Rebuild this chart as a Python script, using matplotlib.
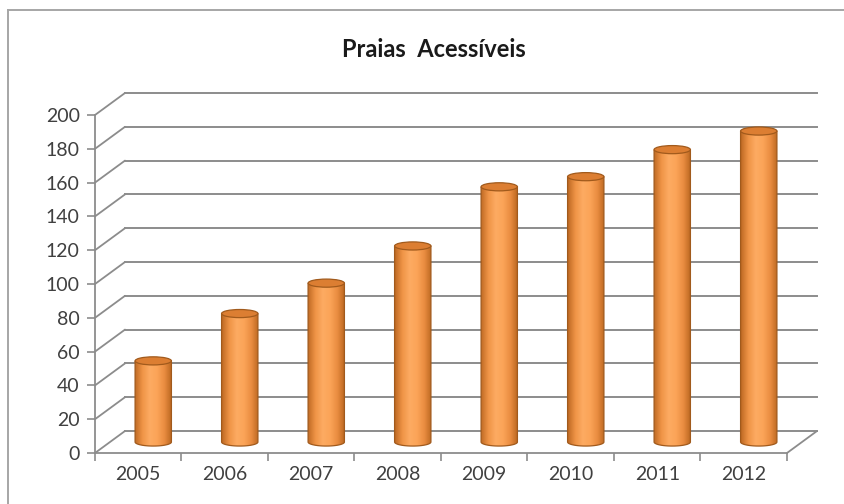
import numpy as np
import matplotlib
matplotlib.use("Agg")
import matplotlib.pyplot as plt
from matplotlib.transforms import Affine2D
from matplotlib.patches import Ellipse, ConnectionPatch, PathPatch
from matplotlib.path import Path
from matplotlib.colors import LinearSegmentedColormap

# ---- data ----
title = "Praias  Acessíveis"
years = ["2005", "2006", "2007", "2008", "2009", "2010", "2011", "2012"]
values = [48, 76, 94, 116, 151, 157, 173, 184]
yticks = list(range(0, 201, 20))

plt.rcParams['font.family'] = ['Lato', 'DejaVu Sans']

W, H = 845, 504
fig = plt.figure(figsize=(W / 100, H / 100), dpi=100)
fig.patch.set_facecolor("white")

# outer chart border (top and left visible)
fig.add_artist(plt.Line2D([8.5 / W, 8.5 / W], [0, 1 - 10 / H], transform=fig.transFigure,
                          color="#a6a6a6", lw=1.4))
fig.add_artist(plt.Line2D([8.5 / W, 1], [1 - 10 / H, 1 - 10 / H], transform=fig.transFigure,
                          color="#a6a6a6", lw=1.4))

left, right = 95, 787
bottom, top = 453, 115
ax = fig.add_axes([left / W, 1 - bottom / H, (right - left) / W, (bottom - top) / H])
ax.set_xlim(-0.5, len(years) - 0.5)
ax.set_ylim(0, 200)
ax.patch.set_alpha(0)
for s in ["top", "right"]:
    ax.spines[s].set_visible(False)
for s in ["left", "bottom"]:
    ax.spines[s].set_color("#8c8c8c")
    ax.spines[s].set_linewidth(1.3)

DX, DY = 30, 22  # depth offset in pixels
back = ax.transData + Affine2D().translate(DX, DY)
mid = ax.transData + Affine2D().translate(DX * 0.5, DY * 0.5)

grid_c = "#8c8c8c"
x0, x1 = -0.5, len(years) - 0.5
# back wall gridlines and left wall diagonals
for t in yticks:
    ax.plot([x0, x1], [t, t], transform=back, color=grid_c, lw=1.4, clip_on=False, zorder=1)
    cp = ConnectionPatch((x0, t), (x0, t), coordsA=ax.transData, coordsB=back,
                         color=grid_c, lw=1.3, zorder=1)
    ax.add_artist(cp)
# right floor edge
ax.add_artist(ConnectionPatch((x1, 0), (x1, 0), coordsA=ax.transData, coordsB=back,
                              color=grid_c, lw=1.3, zorder=1))

# ticks
ax.set_yticks(yticks)
ax.set_yticklabels([str(t) for t in yticks], fontsize=14, color="#404040")
ax.set_xticks(range(len(years)))
ax.set_xticklabels(years, fontsize=14, color="#404040")
ax.tick_params(axis="y", length=6, width=1.2, color=grid_c, pad=5)
ax.tick_params(axis="x", length=0, pad=9)
ax.set_xticks(np.arange(-0.5, len(years), 1.0), minor=True)
ax.tick_params(axis="x", which="minor", length=6, width=1.2, color=grid_c)

# cylinders
cmap = LinearSegmentedColormap.from_list(
    "cyl", ["#bf6a24", "#ef9446", "#fdab62", "#fba458", "#e98c40", "#b9661f"])
grad = np.linspace(0, 1, 256).reshape(1, -1)
bw = 0.42
eh = 4.8  # ellipse height in data units
for i, v in enumerate(values):
    xl, xr = i - bw / 2, i + bw / 2
    im = ax.imshow(grad, extent=[xl, xr, -eh / 2, v], aspect="auto", cmap=cmap,
                   transform=mid, zorder=3, clip_on=True, interpolation="bilinear")
    theta = np.linspace(np.pi, 2 * np.pi, 40)
    bx = i + bw / 2 * np.cos(theta)
    by = eh / 2 * np.sin(theta)
    px = np.concatenate([[xl], bx, [xr, xr, xl]])
    py = np.concatenate([[v], by, [0, v, v]])
    pth = Path(np.column_stack([px, py]))
    clip = PathPatch(pth, transform=mid, facecolor="none", edgecolor="#a15a1c", lw=0.9, zorder=4)
    ax.add_patch(clip)
    im.set_clip_path(clip)
    topE = Ellipse((i, v), bw, eh, transform=mid, facecolor="#dc7e32",
                   edgecolor="#a15a1c", lw=0.9, zorder=5)
    ax.add_patch(topE)

ax.set_title(title, fontsize=17, fontweight="bold", color="#1a1a1a", pad=42)
ax.title.set_position((0.49, 1))

fig.savefig("out.png", dpi=100, facecolor="white")
